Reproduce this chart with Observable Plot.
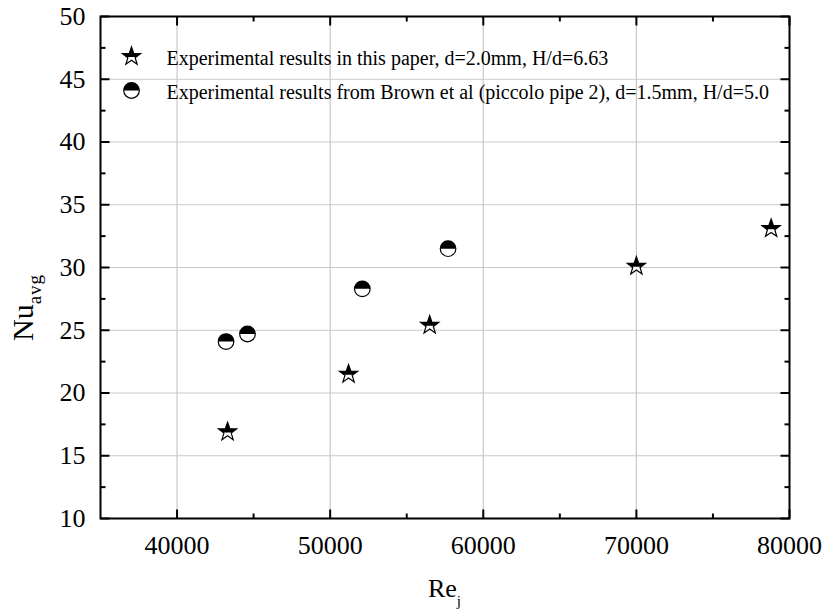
<!DOCTYPE html>
<html><head><meta charset="utf-8">
<script src="https://cdn.jsdelivr.net/npm/d3@7"></script>
<script src="https://cdn.jsdelivr.net/npm/@observablehq/plot@0.6"></script>
<style>body{margin:0;background:#fff} #chart{width:828px;height:616px}</style>
</head><body><div id="chart"></div>
<script>
// ---- data ----
const seriesNames = [
  "Experimental results in this paper, d=2.0mm, H/d=6.63",
  "Experimental results from Brown et al (piccolo pipe 2), d=1.5mm, H/d=5.0"
];
const paperRe = [43300, 51200, 56500, 70000, 78800];
const paperNu = [16.9, 21.5, 25.4, 30.1, 33.1];
const brownRe = [43200, 44600, 52100, 57700];
const brownNu = [24.1, 24.7, 28.3, 31.5];
const xTicks = [40000, 50000, 60000, 70000, 80000];
const xMinor = [45000, 55000, 65000, 75000];
const yTicks = [10, 15, 20, 25, 30, 35, 40, 45, 50];
const yMinor = [12.5, 17.5, 22.5, 27.5, 32.5, 37.5, 42.5, 47.5];
const xGrid = [40000, 50000, 60000, 70000];
const yGrid = [15, 20, 25, 30, 35, 40, 45];
const xTitle = ["Re", "j"];
const yTitle = ["Nu", "avg"];

const paper = paperRe.map((x, i) => ({x, y: paperNu[i]}));
const brown = brownRe.map((x, i) => ({x, y: brownNu[i]}));

// ---- symbols ----
function starPts(R) {
  const ri = R * 0.40, pts = [];
  for (let k = 0; k < 10; k++) {
    const a = -Math.PI / 2 + k * Math.PI / 5, rad = k % 2 ? ri : R;
    pts.push([rad * Math.cos(a), rad * Math.sin(a)]);
  }
  return pts;
}
function clipTop(pts, c) {
  const out = [], n = pts.length;
  for (let i = 0; i < n; i++) {
    const a = pts[i], b = pts[(i + 1) % n];
    const ain = a[1] <= c, bin = b[1] <= c;
    if (ain) out.push(a);
    if (ain !== bin) {
      const t = (c - a[1]) / (b[1] - a[1]);
      out.push([a[0] + t * (b[0] - a[0]), c]);
    }
  }
  return out;
}
function poly(ctx, pts) {
  pts.forEach((p, i) => i ? ctx.lineTo(p[0], p[1]) : ctx.moveTo(p[0], p[1]));
  ctx.closePath();
}
const starFull = {draw(ctx, size) { poly(ctx, starPts(Math.sqrt(size / Math.PI))); }};
const starTop = {draw(ctx, size) { const R = Math.sqrt(size / Math.PI); poly(ctx, clipTop(starPts(R), 0.06 * R)); }};
const circFull = {draw(ctx, size) { const r = Math.sqrt(size / Math.PI); ctx.moveTo(r, 0); ctx.arc(0, 0, r, 0, 2 * Math.PI); ctx.closePath(); }};
const circTop = {draw(ctx, size) { const r = Math.sqrt(size / Math.PI); ctx.moveTo(r, 0); ctx.arc(0, 0, r, 0, Math.PI, true); ctx.closePath(); }};

const SR = 9.6, CR = 7.8;
const font = "'Liberation Serif', 'Times New Roman', serif";

const W = 828, H = 616, ML = 100, MR = 39, MT = 16, MB = 98;

// inward tick shapes, drawn with Plot.dot + custom symbol
const tickUp = len => ({draw(ctx) { ctx.moveTo(0, 0); ctx.lineTo(0, -len); }});
const tickDown = len => ({draw(ctx) { ctx.moveTo(0, 0); ctx.lineTo(0, len); }});
const tickRight = len => ({draw(ctx) { ctx.moveTo(0, 0); ctx.lineTo(len, 0); }});
const tickLeft = len => ({draw(ctx) { ctx.moveTo(0, 0); ctx.lineTo(-len, 0); }});
const tk = {stroke: "black", strokeWidth: 2, fill: "none"};
const MAJ = 9, MIN = 5;

const chart = Plot.plot({
  width: W, height: H,
  marginLeft: ML, marginRight: MR, marginTop: MT, marginBottom: MB,
  style: {fontFamily: font, background: "white", color: "black"},
  x: {domain: [35000, 80000]},
  y: {domain: [10, 50]},
  marks: [
    Plot.gridX(xGrid, {stroke: "#c8c8c8", strokeOpacity: 1, strokeWidth: 1.2}),
    Plot.gridY(yGrid, {stroke: "#c8c8c8", strokeOpacity: 1, strokeWidth: 1.2}),
    Plot.axisX({ticks: xTicks, tickSize: 0, tickPadding: 17, fontSize: 26, fontFamily: font, label: null, tickFormat: d3.format("d")}),
    Plot.axisY({ticks: yTicks, tickSize: 0, tickPadding: 15, fontSize: 26, fontFamily: font, label: null}),
    Plot.dot(xTicks, {x: d => d, frameAnchor: "bottom", symbol: tickUp(MAJ), ...tk}),
    Plot.dot(xMinor, {x: d => d, frameAnchor: "bottom", symbol: tickUp(MIN), ...tk}),
    Plot.dot(xTicks, {x: d => d, frameAnchor: "top", symbol: tickDown(MAJ), ...tk}),
    Plot.dot(xMinor, {x: d => d, frameAnchor: "top", symbol: tickDown(MIN), ...tk}),
    Plot.dot(yTicks, {y: d => d, frameAnchor: "left", symbol: tickRight(MAJ), ...tk}),
    Plot.dot(yMinor, {y: d => d, frameAnchor: "left", symbol: tickRight(MIN), ...tk}),
    Plot.dot(yTicks, {y: d => d, frameAnchor: "right", symbol: tickLeft(MAJ), ...tk}),
    Plot.dot(yMinor, {y: d => d, frameAnchor: "right", symbol: tickLeft(MIN), ...tk}),
    Plot.frame({stroke: "black", strokeWidth: 2}),
    // data
    Plot.dot(paper, {x: "x", y: "y", symbol: starFull, r: SR, fill: "white", stroke: "black", strokeWidth: 1.2}),
    Plot.dot(paper, {x: "x", y: "y", symbol: starTop, r: SR, fill: "black", stroke: "none"}),
    Plot.dot(brown, {x: "x", y: "y", symbol: circFull, r: CR, fill: "white", stroke: "black", strokeWidth: 1.2}),
    Plot.dot(brown, {x: "x", y: "y", symbol: circTop, r: CR, fill: "black", stroke: "none"}),
    // legend
    Plot.dot([seriesNames[0]], {frameAnchor: "top-left", dx: 31, dy: 40, symbol: starFull, r: SR, fill: "white", stroke: "black", strokeWidth: 1.2}),
    Plot.dot([seriesNames[0]], {frameAnchor: "top-left", dx: 31, dy: 40, symbol: starTop, r: SR, fill: "black", stroke: "none"}),
    Plot.dot([seriesNames[1]], {frameAnchor: "top-left", dx: 31, dy: 74, symbol: circFull, r: CR, fill: "white", stroke: "black", strokeWidth: 1.2}),
    Plot.dot([seriesNames[1]], {frameAnchor: "top-left", dx: 31, dy: 74, symbol: circTop, r: CR, fill: "black", stroke: "none"}),
    Plot.text([seriesNames[0]], {text: d => d, frameAnchor: "top-left", lineAnchor: "middle", dx: 66, dy: 42, textAnchor: "start", fontSize: 20, fontFamily: font, fill: "black"}),
    Plot.text([seriesNames[1]], {text: d => d, frameAnchor: "top-left", lineAnchor: "middle", dx: 66, dy: 76, textAnchor: "start", fontSize: 20, fontFamily: font, fill: "black"})
  ]
});

const svg = d3.select(chart);
const xs = chart.scale("x");
const [x0, x1] = xs.range;

// axis titles with subscripts
const xMid = (x0 + x1) / 2;
const xt = svg.append("text").attr("x", xMid).attr("y", 597).attr("text-anchor", "middle")
  .attr("font-family", font).attr("font-size", 26).attr("fill", "black");
xt.append("tspan").text(xTitle[0]);
xt.append("tspan").attr("dy", 9).attr("font-size", 15).text(xTitle[1]);
const yt = svg.append("text").attr("transform", `translate(33,341) rotate(-90)`).attr("text-anchor", "start")
  .attr("font-family", font).attr("font-size", 30).attr("fill", "black");
yt.append("tspan").text(yTitle[0]);
yt.append("tspan").attr("dy", 8).attr("font-size", 19).attr("letter-spacing", 1).text(yTitle[1]);

document.getElementById("chart").appendChild(chart);
</script>
</body></html>
